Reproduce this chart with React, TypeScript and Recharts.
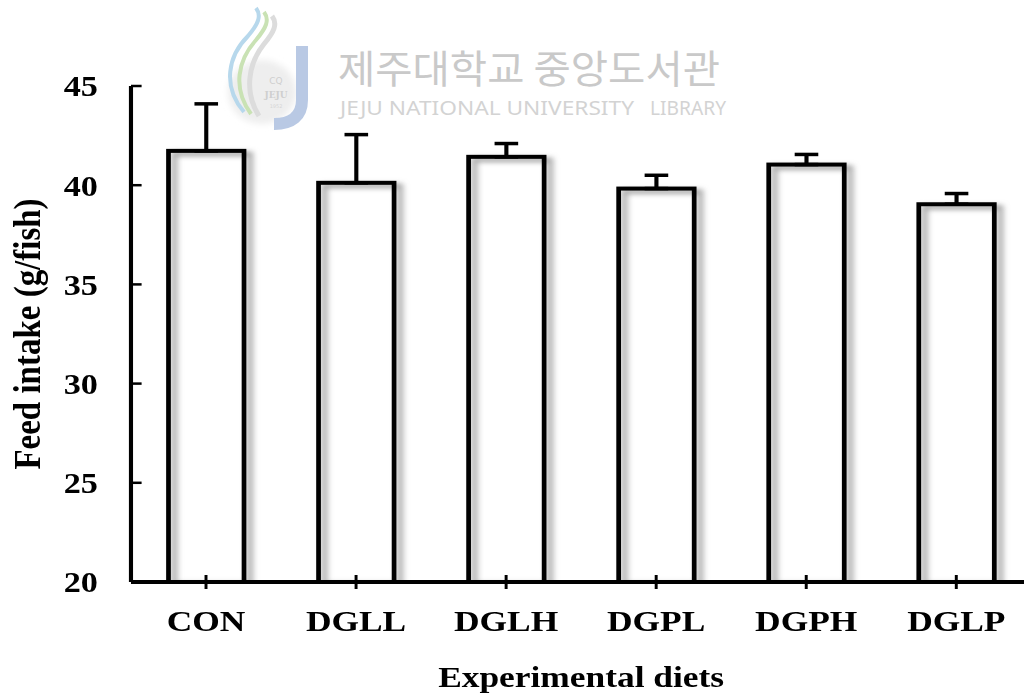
import React from "react";
import { Bar, BarChart, ErrorBar, XAxis, YAxis } from "recharts";

// feed intake per diet (g/fish), mean and SE
const diets = ["CON", "DGLL", "DGLH", "DGPL", "DGPH", "DGLP"];
const intake = [41.73, 40.12, 41.43, 39.83, 41.04, 39.04];
const intakeSE = [2.37, 2.43, 0.67, 0.67, 0.51, 0.54];
const yTicks = [20, 25, 30, 35, 40, 45];

const chartData = diets.map((name, i) => ({
  name,
  intake: intake[i],
  se: [0, intakeSE[i]],
}));

const STRETCH = 1.18;
const serif = '"Liberation Serif", "Times New Roman", serif';

const FramedBar = (props: any) => {
  const { x, y, width, height, index } = props;
  const id = `barShadow${index}`;
  return (
    <g>
      <defs>
        <filter id={id} x="-40%" y="-10%" width="180%" height="130%">
          <feGaussianBlur stdDeviation="2.6" />
        </filter>
      </defs>
      <rect
        x={x + 5}
        y={y + 3}
        width={width}
        height={height}
        fill="none"
        stroke="#a0a0a0"
        strokeWidth={4.5}
        filter={`url(#${id})`}
      />
      <rect x={x} y={y} width={width} height={height} fill="none" stroke="#000" strokeWidth={4} />
    </g>
  );
};

const YTick = ({ x, y, payload }: any) => (
  <g>
    <line x1={x + 28} x2={x + 37} y1={y} y2={y} stroke="#000" strokeWidth={2.5} />
    <text
      x={x}
      y={y}
      dy="0.36em"
      textAnchor="end"
      fontFamily={serif}
      fontWeight="bold"
      fontSize={29}
      fill="#000"
    >
      {payload.value}
    </text>
  </g>
);

const XTick = ({ x, y, payload }: any) => (
  <g>
    <line x1={x} x2={x} y1={y - 7} y2={y + 7} stroke="#000" strokeWidth={2.5} />
    <text
      x={x}
      y={y + 49}
      textAnchor="middle"
      fontFamily={serif}
      fontWeight="bold"
      fontSize={30}
      fill="#000"
    >
      {payload.value}
    </text>
  </g>
);

const XTitle = ({ viewBox }: any) => (
  <text
    x={viewBox.x + viewBox.width / 2}
    y={viewBox.y + 105}
    textAnchor="middle"
    fontFamily={serif}
    fontWeight="bold"
    fontSize={30}
    fill="#000"
  >
    Experimental diets
  </text>
);

const YTitle = ({ viewBox }: any) => {
  const cx = 34;
  const cy = viewBox.y + viewBox.height / 2;
  return (
    <text
      transform={`translate(${cx}, ${cy}) rotate(-90)`}
      textAnchor="middle"
      fontFamily={serif}
      fontWeight="bold"
      fontSize={33}
      fill="#000"
    >
      Feed intake (g/fish)
    </text>
  );
};

// faint library stamp behind the plot
const Watermark = () => (
  <svg width={1024} height={695} style={{ position: "absolute", left: 0, top: 0 }}>
    <defs>
      <filter id="soft" x="-20%" y="-20%" width="140%" height="140%">
        <feGaussianBlur stdDeviation="3" />
      </filter>
    </defs>
    <ellipse cx={262} cy={92} rx={34} ry={32} fill="#eeeeee" filter="url(#soft)" />
    <path d="M244 112 C222 86 228 56 248 36 C258 24 262 16 256 8" fill="none" stroke="#b7d8ec" strokeWidth={4} />
    <path d="M251 114 C232 88 238 60 256 40 C266 28 270 20 264 12" fill="none" stroke="#c9e2b4" strokeWidth={4} />
    <path d="M259 116 C244 92 248 64 264 44 C274 32 278 24 272 16" fill="none" stroke="#dcdcdc" strokeWidth={5} />
    <path d="M302 46 L302 100 C302 116 292 124 274 124" fill="none" stroke="#b9c9e4" strokeWidth={12} />
    <text x={276} y={84} textAnchor="middle" fontFamily="DejaVu Sans" fontSize={9} fill="#cfcfcf">CQ</text>
    <text x={276} y={98} textAnchor="middle" fontFamily="DejaVu Serif" fontSize={9} fontWeight="bold" fill="#cfcfcf">JEJU</text>
    <text x={276} y={108} textAnchor="middle" fontFamily="DejaVu Sans" fontSize={5} fill="#d6d6d6">1952</text>
    <text
      x={338}
      y={83}
      fontFamily='"Noto Sans CJK KR"'
      fontSize={39}
      textLength={382}
      lengthAdjust="spacingAndGlyphs"
      fill="#c9c9c9"
    >
      제주대학교 중앙도서관
    </text>
    <text
      x={340}
      y={115}
      fontFamily='"Noto Sans", sans-serif'
      fontSize={20}
      textLength={294}
      lengthAdjust="spacingAndGlyphs"
      fill="#d3d3d3"
    >
      JEJU NATIONAL UNIVERSITY
    </text>
    <text
      x={650}
      y={115}
      fontFamily='"Noto Sans", sans-serif'
      fontSize={20}
      textLength={76}
      lengthAdjust="spacingAndGlyphs"
      fill="#d3d3d3"
    >
      LIBRARY
    </text>
  </svg>
);

export default function App() {
  return (
    <div
      style={{
        position: "absolute",
        left: 0,
        top: 0,
        width: 1024,
        height: 695,
        overflow: "hidden",
        background: "#fff",
      }}
    >
      <Watermark />
      <div
        style={{
          position: "absolute",
          left: 0,
          top: 0,
          width: 880,
          transform: `scaleX(${STRETCH})`,
          transformOrigin: "0 0",
        }}
      >
        <BarChart
          width={880}
          height={695}
          data={chartData}
          margin={{ top: 86, right: 6, bottom: 0, left: 0 }}
          barCategoryGap="25%"
        >
          <XAxis
            dataKey="name"
            height={113}
            tickSize={0}
            tickMargin={0}
            tickLine={false}
            axisLine={{ stroke: "#000", strokeWidth: 4 }}
            tick={<XTick />}
            interval={0}
            label={<XTitle />}
          />
          <YAxis
            width={111}
            domain={[20, 45]}
            ticks={yTicks}
            allowDataOverflow
            tickSize={0}
            tickMargin={28}
            tickLine={false}
            axisLine={{ stroke: "#000", strokeWidth: 3.5 }}
            tick={<YTick />}
            label={<YTitle />}
          />
          <Bar dataKey="intake" shape={<FramedBar />} isAnimationActive={false}>
            <ErrorBar dataKey="se" width={10} stroke="#000" strokeWidth={3.5} direction="y" />
          </Bar>
        </BarChart>
      </div>
    </div>
  );
}
